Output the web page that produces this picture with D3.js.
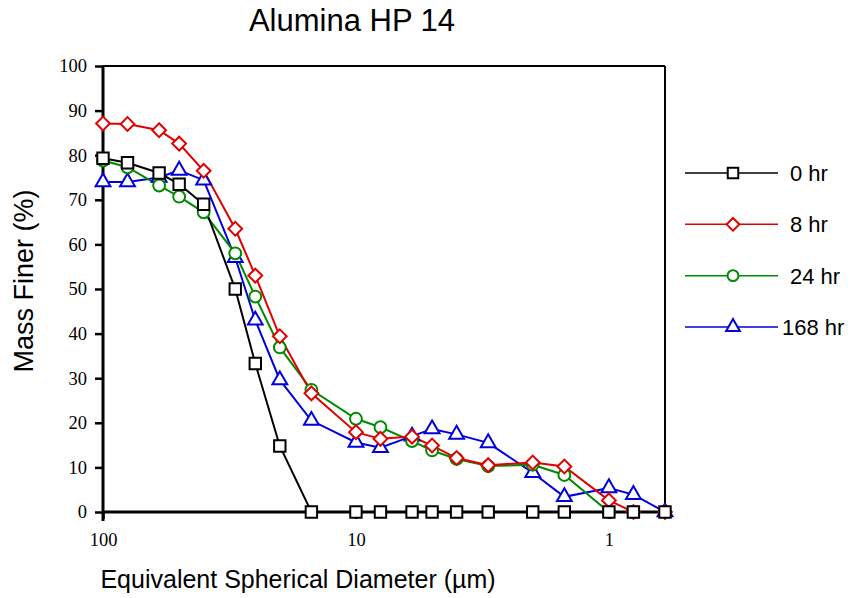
<!DOCTYPE html>
<html>
<head>
<meta charset="utf-8">
<script src="https://cdn.jsdelivr.net/npm/d3@7"></script>
<style>
  body { margin: 0; background: #fff; }
  svg { display: block; }
</style>
</head>
<body>
<div id="chart"></div>
<script>
// diametre (um) - les memes pour les 4 series
var diameters = [100, 80, 60, 50, 40, 30, 25, 20, 15, 10, 8, 6, 5, 4, 3, 2, 1.5, 1, 0.8, 0.6];

var hr0 = [79.3, 78.3, 76, 73.5, 69, 50, 33.3, 14.8, 0, 0, 0, 0, 0, 0, 0, 0, 0, 0, 0, 0];
var hr8 = [87.1, 87, 85.6, 82.6, 76.5, 63.5, 53, 39.4, 26.6, 17.9, 16.4, 16.9, 14.9, 12.1, 10.5, 11.1, 10.2, 2.6, 0, 0];
var hr24 = [78.8, 77.3, 73.2, 70.7, 67.2, 58, 48.3, 36.9, 27.4, 20.9, 19, 15.9, 13.8, 11.9, 10.3, 10.6, 8.3, 0, 0, null];
var hr168 = [74, 74, 75, 76.6, 74.4, 57, 43, 29.6, 20.5, 15.6, 14.4, 17, 18.6, 17.4, 15.5, 8.8, 3.4, 5.4, 3.9, 0];

var x_ticks = [100, 10, 1];
var y_ticks = [0, 10, 20, 30, 40, 50, 60, 70, 80, 90, 100];

// losange carre (carre tourne de 45 deg)
var symbol_diamond = {
    draw: function (ctx, size) {
        var r = Math.sqrt(size / 2);
        ctx.moveTo(0, -r);
        ctx.lineTo(r, 0);
        ctx.lineTo(0, r);
        ctx.lineTo(-r, 0);
        ctx.closePath();
    }
};

var series = [
    { name: '168 hr', values: hr168, color: '#0000dd', symbol: d3.symbolTriangle, size: 95 },
    { name: '24 hr', values: hr24, color: '#008a00', symbol: d3.symbolCircle, size: 110 },
    { name: '8 hr', values: hr8, color: '#e00000', symbol: symbol_diamond, size: 95 },
    { name: '0 hr', values: hr0, color: '#000000', symbol: d3.symbolSquare, size: 130 }
];
var legend_order = ['0 hr', '8 hr', '24 hr', '168 hr'];

var chart_width = 851;
var chart_height = 598;
var plot_left = 103, plot_right = 665, plot_top = 66, plot_bottom = 512;
var font_sans = 'Arial, "Liberation Sans", sans-serif';

var svg = d3.select('#chart')
    .append('svg')
    .attr('width', chart_width)
    .attr('height', chart_height);

var x_scale = d3.scaleLog()
    .domain([100, 0.6])
    .range([plot_left, plot_right]);

var y_scale = d3.scaleLinear()
    .domain([0, 100])
    .range([plot_bottom, plot_top]);

// cadre
svg.append('line')
    .attr('x1', plot_left).attr('x2', plot_right)
    .attr('y1', plot_top).attr('y2', plot_top)
    .attr('stroke', '#000').attr('stroke-width', 2);
svg.append('line')
    .attr('x1', plot_right).attr('x2', plot_right)
    .attr('y1', plot_top).attr('y2', plot_bottom)
    .attr('stroke', '#000').attr('stroke-width', 2);

// axes
var x_axis = d3.axisBottom(x_scale)
    .tickValues(x_ticks)
    .tickFormat(d3.format('~g'))
    .tickSize(7)
    .tickPadding(14);
var gx = svg.append('g')
    .attr('transform', 'translate(0,' + plot_bottom + ')')
    .call(x_axis);

var y_axis = d3.axisLeft(y_scale)
    .tickValues(y_ticks)
    .tickSize(8)
    .tickPadding(8);
var gy = svg.append('g')
    .attr('transform', 'translate(' + plot_left + ',0)')
    .call(y_axis);

[gx, gy].forEach(function (g) {
    g.select('.domain').attr('stroke-width', 3).attr('stroke', '#000');
    g.selectAll('.tick line').attr('stroke-width', 2.5).attr('stroke', '#000');
    g.selectAll('.tick text')
        .attr('fill', '#000')
        .style('font-family', '"Liberation Serif", "Times New Roman", serif')
        .style('font-size', '18.5px');
});
gy.select('.domain').attr('d', 'M0,' + plot_top + 'V' + (plot_bottom + 9));
gx.select('.domain').attr('d', 'M' + plot_left + ',0H' + plot_right);

// lignes et marqueurs
var line = d3.line()
    .defined(function (d) { return d.v !== null; })
    .x(function (d) { return x_scale(d.d); })
    .y(function (d) { return y_scale(d.v); });

series.forEach(function (s) {
    var pts = diameters.map(function (d, i) {
        return { d: d, v: s.values[i] };
    });
    svg.append('path')
        .datum(pts)
        .attr('d', line)
        .attr('fill', 'none')
        .attr('stroke', s.color)
        .attr('stroke-width', 2);
});
series.forEach(function (s) {
    var pts = diameters.map(function (d, i) {
        return { d: d, v: s.values[i] };
    }).filter(function (p) { return p.v !== null; });
    svg.selectAll(null)
        .data(pts)
        .enter()
        .append('path')
        .attr('d', d3.symbol().type(s.symbol).size(s.size))
        .attr('transform', function (p) {
            return 'translate(' + x_scale(p.d) + ',' + y_scale(p.v) + ')';
        })
        .attr('fill', '#fff')
        .attr('stroke', s.color)
        .attr('stroke-width', 2);
});

// legende
var legend_y = d3.scalePoint()
    .domain(legend_order)
    .range([173, 327]);

legend_order.forEach(function (name) {
    var s = series.filter(function (e) { return e.name === name; })[0];
    var y = legend_y(name);
    svg.append('line')
        .attr('x1', 685).attr('x2', 778)
        .attr('y1', y).attr('y2', y)
        .attr('stroke', s.color).attr('stroke-width', 1.5);
    svg.append('path')
        .attr('d', d3.symbol().type(s.symbol).size(s.size * 0.85))
        .attr('transform', 'translate(733,' + y + ')')
        .attr('fill', '#fff')
        .attr('stroke', s.color)
        .attr('stroke-width', 2);
    svg.append('text')
        .attr('x', name === '168 hr' ? 782 : 790)
        .attr('y', y + 8)
        .text(name)
        .style('font-family', font_sans)
        .style('font-size', '22px');
});

// titres
svg.append('text')
    .attr('x', 352).attr('y', 31)
    .attr('text-anchor', 'middle')
    .text('Alumina HP 14')
    .style('font-family', font_sans)
    .style('font-size', '31px');

svg.append('text')
    .attr('x', 298).attr('y', 588)
    .attr('text-anchor', 'middle')
    .text('Equivalent Spherical Diameter (µm)')
    .style('font-family', font_sans)
    .style('font-size', '25px');

svg.append('text')
    .attr('transform', 'translate(33,281) rotate(-90)')
    .attr('text-anchor', 'middle')
    .text('Mass Finer (%)')
    .style('font-family', font_sans)
    .style('font-size', '27px');
</script>
</body>
</html>
